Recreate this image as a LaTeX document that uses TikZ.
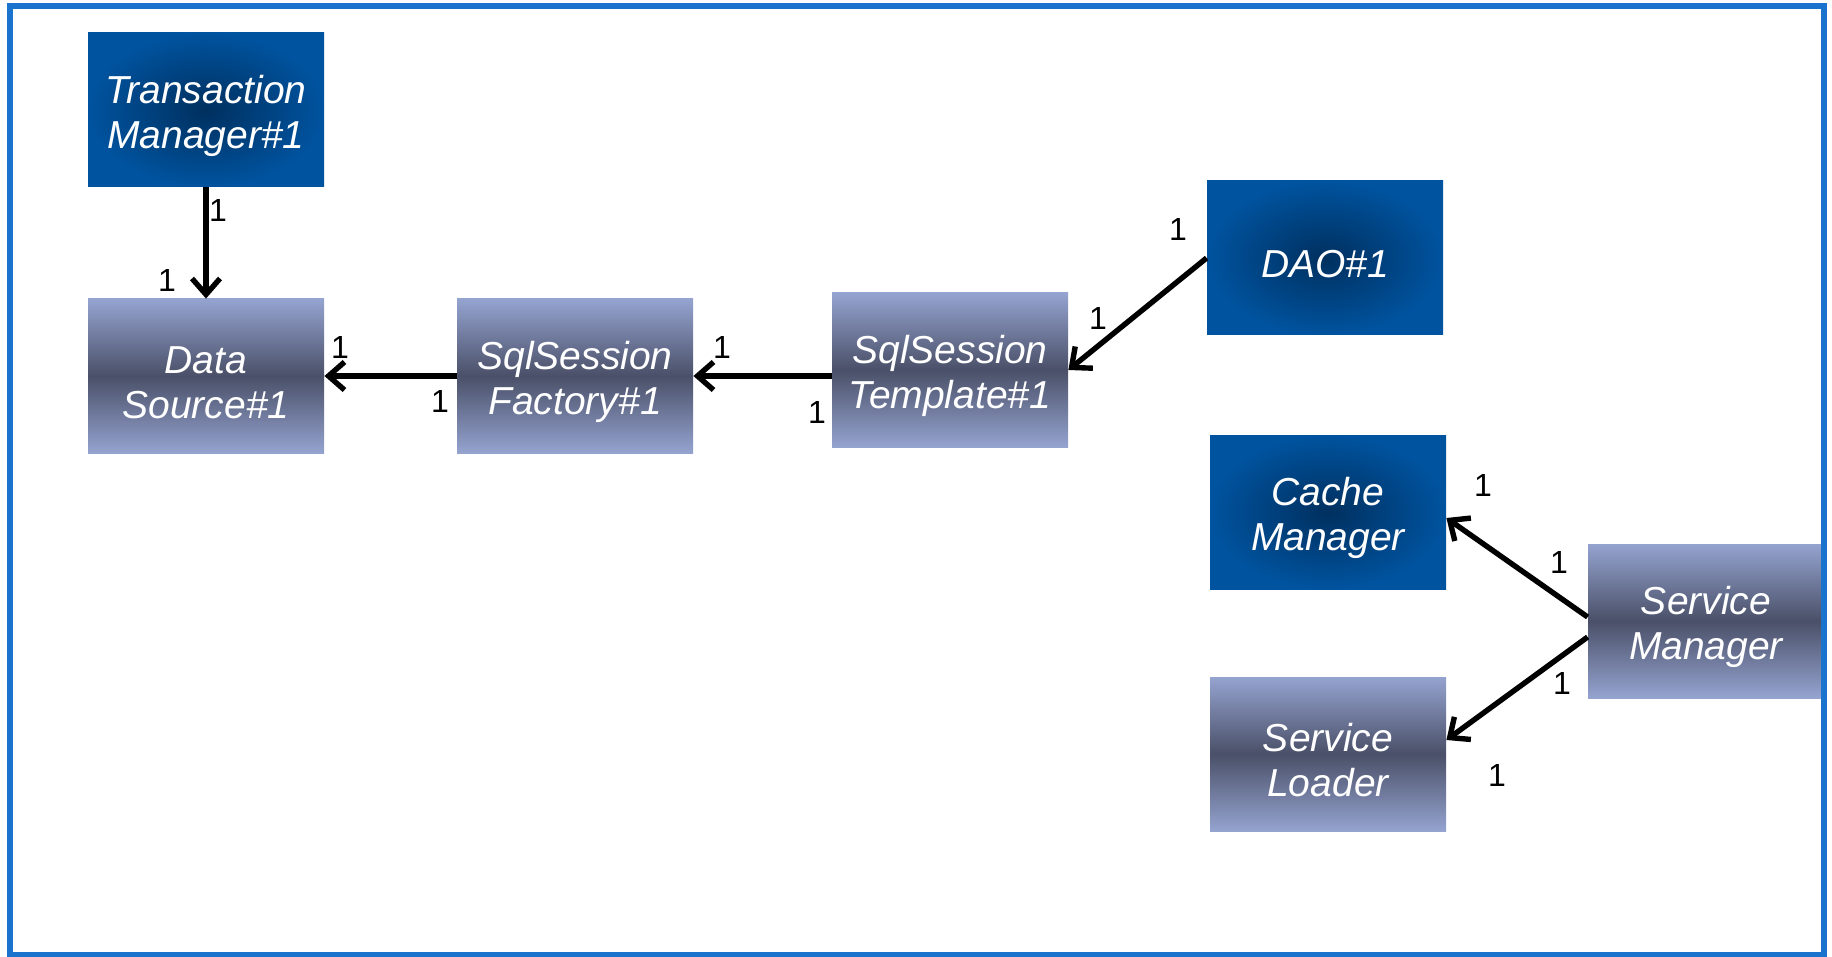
\documentclass[tikz,border=0pt]{standalone}
\usepackage{fontspec}
\setmainfont{Liberation Sans}
\usepackage{tikz}
\usetikzlibrary{arrows.meta,positioning}
\definecolor{frameblue}{HTML}{1A73CC}
\definecolor{deepblue}{HTML}{00305F}
\definecolor{royal}{HTML}{00539F}
\definecolor{lilac}{HTML}{95A3D0}
\definecolor{slate}{HTML}{4A5068}
\newcommand{\padtop}{\rule{0pt}{20pt}}
\tikzset{
  darkbox/.style={rectangle,inner color=deepblue,outer color=royal,text=white,
    minimum width=118pt,minimum height=77pt,inner sep=0pt,align=center,
    font=\fontsize{19.5}{22.5}\selectfont\itshape},
  lightbox/.style={rectangle,top color=lilac,bottom color=lilac,middle color=slate,
    text=white,minimum width=118pt,minimum height=77pt,inner sep=0pt,align=center,
    font=\fontsize{19.5}{22.5}\selectfont\itshape},
  arrow/.style={-{Straight Barb[length=8pt,width=14pt]},line width=2.7pt,draw=black},
  mult/.style={font=\fontsize{16}{16}\selectfont,inner sep=1pt},
  frame/.style={draw=frameblue,line width=2.8pt}
}
\begin{document}
\begin{tikzpicture}[x=0.5pt,y=-0.5pt]
  \useasboundingbox (0,0) rectangle (1832,957);
  % components
  \node[darkbox] (tm) at (206,110) {\padtop Transaction\\Manager\#1};
  \node[lightbox] (ds) at (206,376) {\padtop Data\\Source\#1};
  \node[lightbox] (fac) at (575,376) {\padtop SqlSession\\Factory\#1};
  \node[lightbox] (tpl) at (950,370) {\padtop SqlSession\\Template\#1};
  \node[darkbox] (dao) at (1325,258) {\padtop DAO\#1};
  \node[darkbox] (cm) at (1328,512) {\padtop Cache\\Manager};
  \node[lightbox] (sm) at (1706,621) {\padtop Service\\Manager};
  \node[lightbox] (sl) at (1328,754) {\padtop Service\\Loader};
  % associations
  \draw[arrow] (tm) -- (ds);
  \draw[arrow] (fac) -- (ds);
  \draw[arrow] (tpl.west |- fac.east) -- (fac.east);
  \draw[arrow] (dao.west) -- (tpl.east);
  \draw[arrow] ([yshift=2pt]sm.west) -- ([yshift=-3pt]cm.east);
  \draw[arrow] ([yshift=-8pt]sm.west) -- ([yshift=7pt]sl.east);
  % multiplicities
  \node[mult] (m1) at (218,210) {1};
  \node[mult] (m2) at (167,280) {1};
  \node[mult] (m3) at (340,347) {1};
  \node[mult] (m4) at (440,401) {1};
  \node[mult] (m5) at (722,347) {1};
  \node[mult] (m6) at (817,412) {1};
  \node[mult] (m7) at (1178,229) {1};
  \node[mult] (m8) at (1098,318) {1};
  \node[mult] (m9) at (1483,485) {1};
  \node[mult] (m10) at (1559,562) {1};
  \node[mult] (m11) at (1562,683) {1};
  \node[mult] (m12) at (1497,775) {1};
  \draw[frame] (10,6) rectangle (1824,955);
\end{tikzpicture}
\end{document}
